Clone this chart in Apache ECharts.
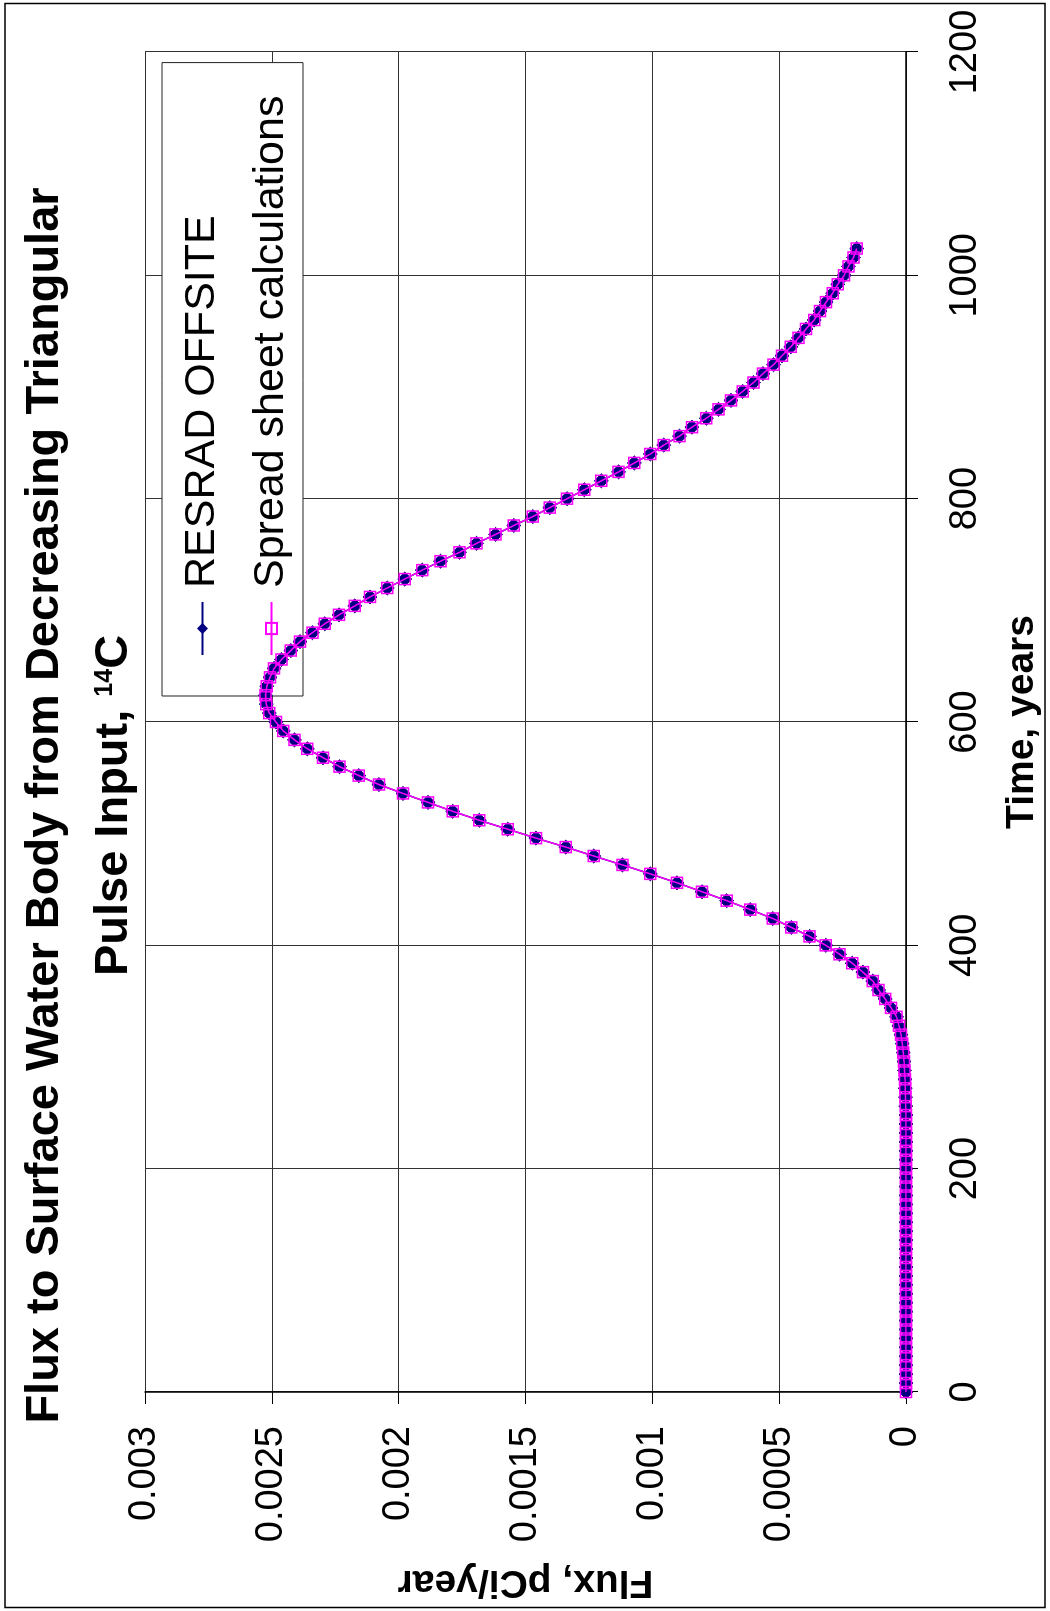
<!DOCTYPE html>
<html>
<head>
<meta charset="utf-8">
<script src="https://cdn.jsdelivr.net/npm/echarts@6/dist/echarts.min.js"></script>
<style>
  html, body { margin:0; padding:0; width:1050px; height:1611px; overflow:hidden; background:#fff; }
  #wrap { position:absolute; left:0; top:0; width:1611px; height:1050px; transform-origin:0 0; transform:translate(0px,1611px) rotate(-90deg); }
  #chart { width:1611px; height:1050px; }
</style>
</head>
<body>
<div id="wrap"><div id="chart"></div></div>
<script>
// ---- data ----
const titleLine1 = 'Flux to Surface Water Body from Decreasing Triangular';
const titleLine2 = 'Pulse Input, ';
const titleSup = '14';
const titleEnd = 'C';
const xAxisTitle = 'Time, years';
const yAxisTitle = 'Flux, pCi/year';
const seriesNames = ['RESRAD OFFSITE', 'Spread sheet calculations'];
const timeTickLabels = ['0', '200', '400', '600', '800', '1000', '1200'];
const fluxTickLabels = ['0', '0.0005', '0.001', '0.0015', '0.002', '0.0025', '0.003'];

const times = [
  0, 8, 16, 24, 32, 40, 48, 56, 64, 72, 80, 88, 96, 104, 112, 120,
  128, 136, 144, 152, 160, 168, 176, 184, 192, 200, 208, 216, 224, 232, 240, 248,
  256, 264, 272, 280, 288, 296, 304, 312, 320, 328, 336, 344, 352, 360, 368, 376,
  384, 392, 400, 408, 416, 424, 432, 440, 448, 456, 464, 472, 480, 488, 496, 504,
  512, 520, 528, 536, 544, 552, 560, 568, 576, 584, 592, 600, 608, 616, 624, 632,
  640, 648, 656, 664, 672, 680, 688, 696, 704, 712, 720, 728, 736, 744, 752, 760,
  768, 776, 784, 792, 800, 808, 816, 824, 832, 840, 848, 856, 864, 872, 880, 888,
  896, 904, 912, 920, 928, 936, 944, 952, 960, 968, 976, 984, 992, 1000, 1008, 1016,
  1024
];

const resradFlux = [
  0, 0, 0, 0, 0, 0, 0, 0, 0, 0, 0, 0, 0, 0, 0, 0,
  0, 0, 0, 0, 0, 0, 0, 0, 0, 0, 0, 0, 0, 0, 0, 0,
  0.000001, 0.000002, 0.000003, 0.000004, 0.000006, 0.000008, 0.000011, 0.000015,
  0.000020, 0.000028, 0.000037, 0.000059, 0.000082, 0.000108, 0.000131, 0.000170,
  0.000212, 0.000262, 0.000316, 0.000380, 0.000452, 0.000525, 0.000614, 0.000707,
  0.000804, 0.000903, 0.001008, 0.001118, 0.001231, 0.001341, 0.001459, 0.001570,
  0.001682, 0.001787, 0.001884, 0.001983, 0.002078, 0.002157, 0.002233, 0.002298,
  0.002360, 0.002411, 0.002455, 0.002484, 0.002510, 0.002522, 0.002525, 0.002520,
  0.002507, 0.002491, 0.002462, 0.002425, 0.002389, 0.002340, 0.002291, 0.002235,
  0.002173, 0.002113, 0.002045, 0.001976, 0.001907, 0.001835, 0.001760, 0.001693,
  0.001618, 0.001546, 0.001471, 0.001404, 0.001336, 0.001268, 0.001201, 0.001133,
  0.001071, 0.001008, 0.000955, 0.000893, 0.000844, 0.000787, 0.000739, 0.000690,
  0.000644, 0.000601, 0.000564, 0.000522, 0.000489, 0.000454, 0.000424, 0.000394,
  0.000362, 0.000339, 0.000315, 0.000289, 0.000269, 0.000244, 0.000227, 0.000207,
  0.000194
];

const spreadsheetFlux = [
  0, 0, 0, 0, 0, 0, 0, 0, 0, 0, 0, 0, 0, 0, 0, 0,
  0, 0, 0, 0, 0, 0, 0, 0, 0, 0, 0, 0, 0, 0, 0, 0,
  0.000001, 0.000002, 0.000003, 0.000004, 0.000006, 0.000008, 0.000011, 0.000015,
  0.000020, 0.000028, 0.000037, 0.000059, 0.000082, 0.000108, 0.000131, 0.000170,
  0.000212, 0.000262, 0.000316, 0.000380, 0.000452, 0.000525, 0.000614, 0.000707,
  0.000804, 0.000903, 0.001008, 0.001118, 0.001231, 0.001341, 0.001459, 0.001570,
  0.001682, 0.001787, 0.001884, 0.001983, 0.002078, 0.002157, 0.002233, 0.002298,
  0.002360, 0.002411, 0.002455, 0.002484, 0.002510, 0.002522, 0.002525, 0.002520,
  0.002507, 0.002491, 0.002462, 0.002425, 0.002389, 0.002340, 0.002291, 0.002235,
  0.002173, 0.002113, 0.002045, 0.001976, 0.001907, 0.001835, 0.001760, 0.001693,
  0.001618, 0.001546, 0.001471, 0.001404, 0.001336, 0.001268, 0.001201, 0.001133,
  0.001071, 0.001008, 0.000955, 0.000893, 0.000844, 0.000787, 0.000739, 0.000690,
  0.000644, 0.000601, 0.000564, 0.000522, 0.000489, 0.000454, 0.000424, 0.000394,
  0.000362, 0.000339, 0.000315, 0.000289, 0.000269, 0.000244, 0.000227, 0.000207,
  0.000194
];

// ---- chart ----
const FONT = '"Liberation Sans", Arial, Helvetica, sans-serif';
const chart = echarts.init(document.getElementById('chart'), null, { renderer: 'canvas' });

const pairs = arr => times.map((t, i) => [t, arr[i]]);

const option = {
  backgroundColor: '#ffffff',
  animation: false,
  title: {
    left: 'center',
    top: 11,
    padding: 0,
    text: '{t|' + titleLine1 + '}\n{t|' + titleLine2 + '}{sup|' + titleSup + '}{t|' + titleEnd + '}',
    textStyle: {
      rich: {
        t: { fontFamily: FONT, fontWeight: 'bold', fontSize: 47, lineHeight: 69, color: '#000' },
        sup: { fontFamily: FONT, fontWeight: 'bold', fontSize: 25, lineHeight: 25, color: '#000', padding: [0, 0, 19, 0] }
      }
    }
  },
  graphic: [
    {
      type: 'rect', z: 100, silent: true,
      shape: { x: 3.5, y: 5, width: 1604, height: 1040 },
      style: { fill: 'none', stroke: '#000', lineWidth: 1.5 }
    }
  ],
  legend: {
    orient: 'vertical',
    left: 915,
    top: 162,
    z: 1,
    padding: [19, 33, 10, 40],
    itemWidth: 53,
    itemHeight: 14,
    itemGap: 26,
    backgroundColor: '#ffffff',
    borderColor: '#222',
    borderWidth: 1,
    textStyle: { fontFamily: FONT, fontSize: 43, color: '#000', padding: [0, 0, 0, 9] },
    data: seriesNames
  },
  grid: { left: 219, right: 52, top: 145, bottom: 144, containLabel: false },
  xAxis: {
    type: 'value',
    min: 0, max: 1200, interval: 200,
    name: xAxisTitle,
    nameLocation: 'middle',
    nameGap: 97,
    nameTextStyle: { fontFamily: FONT, fontWeight: 'bold', fontSize: 39, color: '#000' },
    axisLine: { show: true, onZero: false, lineStyle: { color: '#000', width: 1.5 } },
    axisTick: { show: true, inside: false, length: 12, lineStyle: { color: '#000', width: 1 } },
    axisLabel: {
      margin: 41, fontFamily: FONT, fontSize: 38, color: '#000',
      formatter: (v, i) => timeTickLabels[i]
    },
    splitLine: { show: true, lineStyle: { color: '#333', width: 1 } }
  },
  yAxis: {
    type: 'value',
    min: 0, max: 0.003, interval: 0.0005,
    name: yAxisTitle,
    nameLocation: 'middle',
    nameGap: 170,
    nameTextStyle: { fontFamily: FONT, fontWeight: 'bold', fontSize: 39, color: '#000' },
    axisLine: { show: true, onZero: false, lineStyle: { color: '#000', width: 1.5 } },
    axisTick: { show: true, inside: false, length: 12, lineStyle: { color: '#000', width: 1 } },
    axisLabel: {
      margin: 34, fontFamily: FONT, fontSize: 38, color: '#000',
      formatter: (v, i) => fluxTickLabels[i]
    },
    splitLine: { show: true, lineStyle: { color: '#333', width: 1 } }
  },
  series: [
    {
      name: seriesNames[0],
      type: 'line',
      z: 2,
      data: pairs(resradFlux),
      symbol: 'diamond',
      symbolSize: 14,
      showAllSymbol: true,
      lineStyle: { color: '#000080', width: 1.5 },
      itemStyle: { color: '#000080', borderColor: '#000080' }
    },
    {
      name: seriesNames[1],
      type: 'line',
      z: 3,
      data: pairs(spreadsheetFlux),
      symbol: 'rect',
      symbolSize: 11,
      showAllSymbol: true,
      lineStyle: { color: '#FF00FF', width: 1.5 },
      itemStyle: { color: 'rgba(255,255,255,0)', borderColor: '#FF00FF', borderWidth: 1.5 }
    }
  ]
};
chart.setOption(option);
</script>
</body>
</html>
